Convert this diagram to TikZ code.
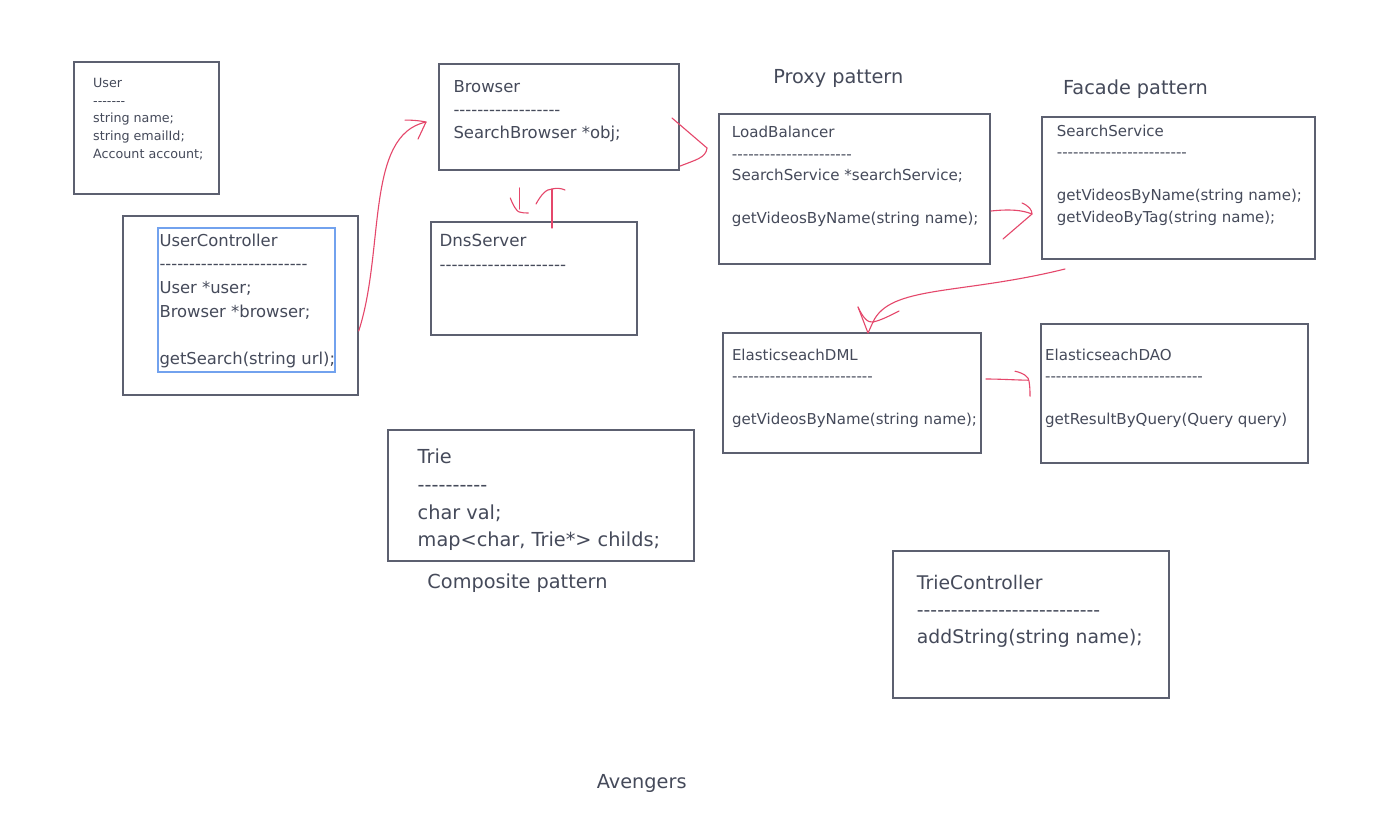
\documentclass[tikz,border=0pt]{standalone}
\usepackage{fontspec}
\setmainfont{DejaVu Sans}
\usetikzlibrary{positioning}
\definecolor{inkgray}{HTML}{454A5A}
\definecolor{boxgray}{HTML}{5C6070}
\definecolor{selblue}{HTML}{72A2EE}
\definecolor{penred}{HTML}{E5476B}
\newcommand\fsz[2]{\fontsize{#1pt}{#2pt}\selectfont}
\newcommand\dashrow[1]{\foreach\k in {1,...,#1}{-}}
\tikzset{
  classbox/.style={draw=boxgray, line width=2pt, inner sep=0pt, anchor=north west},
  classtxt/.style={text=inkgray, align=left, inner sep=0pt, anchor=north west},
  patternlbl/.style={text=inkgray, font=\fsz{19.3}{23}, inner sep=0pt},
  pen/.style={draw=penred, line width=1.1pt, line cap=round, line join=round},
}
\begin{document}
\begin{tikzpicture}[x=1pt,y=-1pt]
\useasboundingbox[fill=white] (0,0) rectangle (1396,814);
% class boxes
\node[classbox, minimum width=144.4pt, minimum height=132.3pt] (user) at (73.3,61) {};
\node[classbox, minimum width=235pt, minimum height=179pt] (uc) at (121.7,215) {};
\node[classbox, draw=selblue, line width=1.5pt, minimum width=176.7pt, minimum height=143.7pt] (ucsel) at (157.3,227.3) {};
\node[classbox, minimum width=240pt, minimum height=105.7pt] (browser) at (438.3,63.3) {};
\node[classbox, minimum width=206pt, minimum height=113pt] (dns) at (430,221) {};
\node[classbox, minimum width=271.3pt, minimum height=150.6pt] (lb) at (717.7,112.7) {};
\node[classbox, minimum width=273.6pt, minimum height=142.6pt] (search) at (1040.7,115.7) {};
\node[classbox, minimum width=257.2pt, minimum height=120.6pt] (dml) at (722.4,331.7) {};
\node[classbox, minimum width=267pt, minimum height=139pt] (dao) at (1040,322.7) {};
\node[classbox, minimum width=306pt, minimum height=131pt] (trie) at (387,429) {};
\node[classbox, minimum width=276.6pt, minimum height=147.3pt] (triectl) at (891.7,550) {};
% class texts
\node[classtxt, font=\fsz{12.7}{17.75}] (user-txt) at (93,78)
  {User\\\dashrow{7}\\string name;\\string emailId;\\Account account;};
\node[classtxt, font=\fsz{16.4}{23.7}] (uc-txt) at (159.3,233.6)
  {UserController\\\dashrow{25}\\User *user;\\Browser *browser;\\[23.7pt]getSearch(string url);};
\node[classtxt, font=\fsz{16.45}{23.3}] (browser-txt) at (453.3,80.1)
  {Browser\\\dashrow{18}\\SearchBrowser *obj;};
\node[classtxt, font=\fsz{16.7}{23.3}] (dns-txt) at (439.3,234.2)
  {DnsServer\\\dashrow{21}};
\node[classtxt, font=\fsz{15.1}{21.5}] (lb-txt) at (731.7,126.3)
  {LoadBalancer\\\dashrow{22}\\SearchService *searchService;\\[21.5pt]getVideosByName(string name);};
\node[classtxt, font=\fsz{15}{21.6}] (search-txt) at (1056.7,124.5)
  {SearchService\\\dashrow{24}\\[21.6pt]getVideosByName(string name);\\getVideoByTag(string name);};
\node[classtxt, font=\fsz{15}{21.4}] (dml-txt) at (731.8,348.5)
  {ElasticseachDML\\\dashrow{26}\\[21.4pt]getVideosByName(string name);};
\node[classtxt, font=\fsz{15.07}{21.6}] (dao-txt) at (1044.9,348.5)
  {ElasticseachDAO\\\dashrow{29}\\[21.6pt]getResultByQuery(Query query)};
\node[classtxt, font=\fsz{19.3}{27.8}] (trie-txt) at (417.5,448.6)
  {Trie\\\dashrow{10}\\char val;\\map<char, Trie*> childs;};
\node[classtxt, font=\fsz{18.8}{26.7}] (triectl-txt) at (916.7,575.2)
  {TrieController\\\dashrow{27}\\addString(string name);};
% pattern labels
\node[patternlbl] (proxy) at (838.3,78) {Proxy pattern};
\node[patternlbl] (facade) at (1135.5,89.3) {Facade pattern};
\node[patternlbl] (composite) at (517.5,583) {Composite pattern};
\node[patternlbl] (avengers) at (641.7,783.3) {Avengers};
% connector ends
\coordinate (uc-out) at ([yshift=-25.5pt]uc.east);
\coordinate (br-in) at ([xshift=-12.3pt,yshift=-4.9pt]browser.west);
\coordinate (br-out) at ([yshift=5pt]browser.south east);
\coordinate (lb-in) at ([xshift=-10.7pt,yshift=-35.3pt]lb.north west);
\coordinate (br-down) at ([xshift=-40pt,yshift=-17pt]browser.south);
\coordinate (dns-in) at ([xshift=-14.7pt,yshift=12pt]dns.north);
\coordinate (dns-up) at ([xshift=18pt,yshift=-7pt]dns.north);
\coordinate (br-up) at ([xshift=-7.3pt,yshift=-18pt]browser.south);
\coordinate (lb-out) at ([yshift=-22pt]lb.east);
\coordinate (ss-in) at ([xshift=-8.7pt,yshift=-26pt]search.west);
\coordinate (ss-out) at ([xshift=24.3pt,yshift=-8.7pt]search.south west);
\coordinate (dml-in) at ([xshift=21pt,yshift=9.7pt]dml.north);
\coordinate (dml-out) at ([xshift=4.4pt,yshift=14pt]dml.east);
\coordinate (dao-in) at ([xshift=-12pt,yshift=13pt]dao.west);
% hand drawn connectors
\draw[pen] (uc-out) .. controls (385,250) and (365,135) .. (br-in);
\draw[pen, shift={(br-in)}] (-21,-2) .. controls (-12,-2) and (-4,-1) .. (0,0) -- (-8,17);
\draw[pen] (br-out) .. controls (695,160) and (706,158) .. (lb-in);
\draw[pen] (lb-in) -- +(-35,-30);
\draw[pen] (br-down) -- (dns-in);
\draw[pen, shift={(dns-in)}] (-9,-11) .. controls (-6,-3) and (-2,3) .. (0,3) .. controls (3,4) and (6,4) .. (9,4);
\draw[pen] (dns-up) -- (br-up);
\draw[pen, shift={(br-up)}] (-16,15) .. controls (-11,6) and (-6,0) .. (0,0) .. controls (4,-1) and (9,-1) .. (13,1);
\draw[pen] (lb-out) .. controls (1010,209) and (1022,210) .. (ss-in);
\draw[pen, shift={(ss-in)}] (-10,-11) .. controls (-3,-8) and (0,-4) .. (0,0) -- (-29,25);
\draw[pen] (ss-out) .. controls (960,295) and (890,285) .. (dml-in);
\draw[pen, shift={(dml-in)}] (-15,-15) -- (-5,11) -- (0,0);
\draw[pen, shift={(dml-in)}] (-15,-15) .. controls (-10,-4) and (-5,1) .. (0,0) .. controls (9,-2) and (18,-7) .. (26,-11);
\draw[pen] (dml-out) .. controls (1000,379) and (1015,380) .. (dao-in);
\draw[pen, shift={(dao-in)}] (-13,-9) .. controls (-4,-7) and (1,-3) .. (1,1) .. controls (2,7) and (2,11) .. (2,16);
\end{tikzpicture}
\end{document}
